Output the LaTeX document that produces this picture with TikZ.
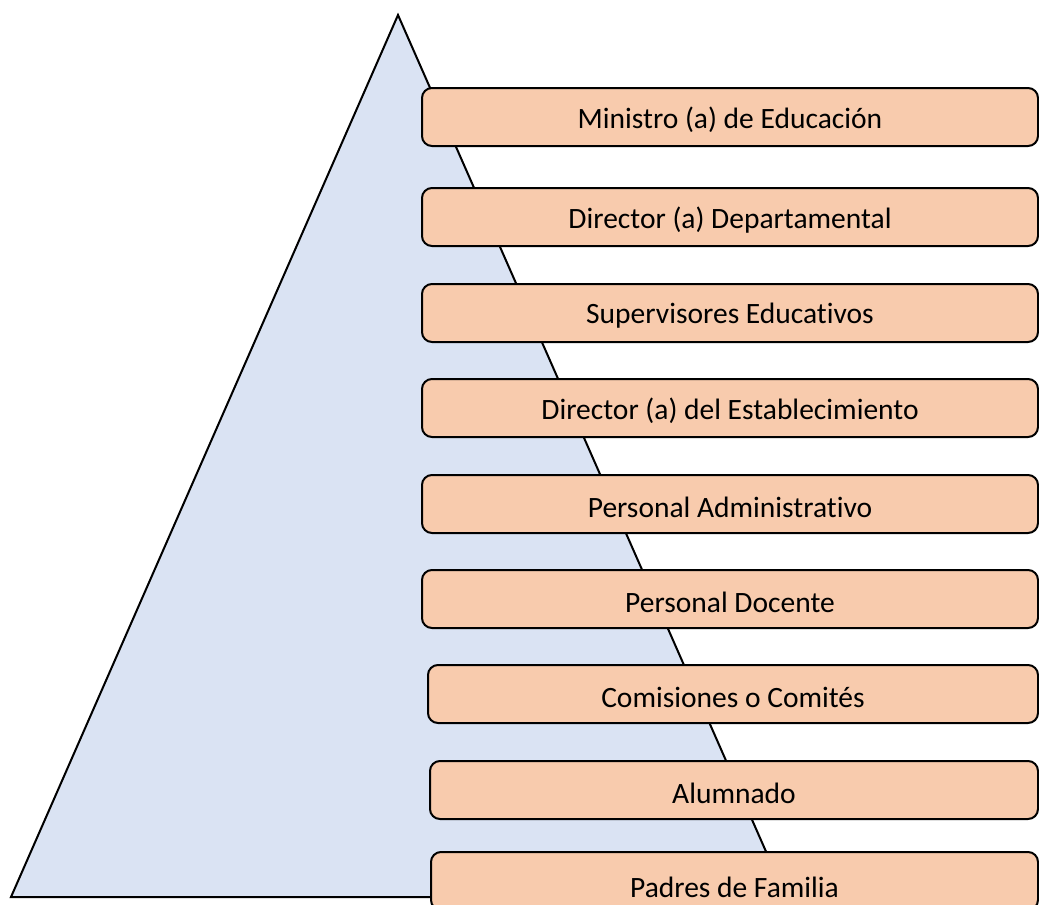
\documentclass[tikz,border=0pt]{standalone}
\usepackage{fontspec}
\setmainfont{Carlito}[Ligatures={NoCommon}]
\definecolor{peach}{HTML}{F8CBAD}
\definecolor{paleblue}{HTML}{DAE3F3}
\begin{document}
\begin{tikzpicture}[x=1pt,y=-1pt,
  level/.style={draw=black, line width=2pt, fill=peach, rounded corners=10pt,
    anchor=north west, minimum height=58pt, inner sep=0pt,
    font=\fontsize{29.5}{34}\selectfont},
  lbl/.style={font=\fontsize{29.5}{34}\selectfont, inner sep=0pt, yshift=-3pt}]
\useasboundingbox (0,0) rectangle (1039,905);
\clip (0,0) rectangle (1039,905);
\draw[line width=2pt, fill=paleblue, line join=miter] (398,15) -- (786,897) -- (11,897) -- cycle;
\node[level, minimum width=616pt] (n1) at (421,87) {};
\node[level, minimum width=616pt] (n2) at (421,187) {};
\node[level, minimum width=616pt] (n3) at (421,283) {};
\node[level, minimum width=616pt] (n4) at (421,378) {};
\node[level, minimum width=616pt] (n5) at (421,474) {};
\node[level, minimum width=616pt] (n6) at (421,569) {};
\node[level, minimum width=610pt] (n7) at (427,664) {};
\node[level, minimum width=608pt] (n8) at (429,760) {};
\node[level, minimum width=607pt] (n9) at (430,851) {};
\node[lbl] (t1) at (n1.center) {Ministro (a) de Educación};
\node[lbl] (t2) at (n2.center) {Director (a) Departamental};
\node[lbl] (t3) at (n3.center) {Supervisores Educativos};
\node[lbl] (t4) at (n4.center) {Director (a) del Establecimiento};
\node[lbl] (t5) at (n5.center) {Personal Administrativo};
\node[lbl] (t6) at (n6.center) {Personal Docente};
\node[lbl] (t7) at (n7.center) {Comisiones o Comités};
\node[lbl] (t8) at (n8.center) {Alumnado};
\node[lbl] (t9) at ([yshift=-3pt]n9.center) {Padres de Familia};
\end{tikzpicture}
\end{document}
